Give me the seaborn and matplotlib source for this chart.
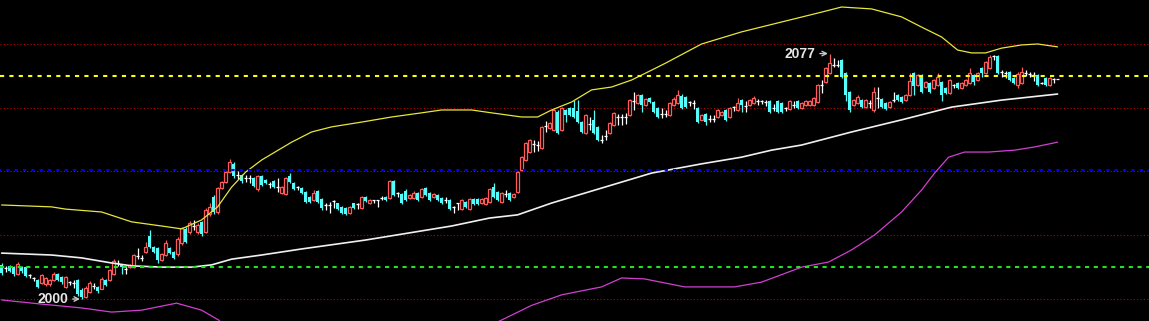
import numpy as np
import matplotlib
matplotlib.use("Agg")
import matplotlib.pyplot as plt
import seaborn as sns

# ---------------- data (prices) ----------------
opens = [
    2010.7, 2009.8, 2010.4, 2010.0, 2007.9, 2010.0, 2010.0, 2007.5, 2006.6, 2006.0,
    2005.0, 2004.7, 2004.7, 2006.0, 2007.9, 2006.9, 2003.8, 2005.3, 2005.0, 2006.0,
    2002.8, 2000.5, 2002.2, 2004.1, 2003.8, 2003.2, 2006.0, 2006.0, 2007.9, 2011.2,
    2010.7, 2009.5, 2010.0, 2010.0, 2013.5, 2013.0, 2014.7, 2019.8, 2016.3, 2016.0,
    2012.2, 2013.8, 2016.0, 2014.7, 2014.1, 2017.5, 2022.0, 2020.9, 2023.0, 2020.9,
    2024.2, 2021.0, 2026.6, 2032.0, 2027.2, 2034.8, 2036.7, 2039.8, 2042.5, 2039.0,
    2038.9, 2038.0, 2038.0, 2038.0, 2034.5, 2038.5, 2037.3, 2036.0, 2037.0, 2035.0,
    2033.3, 2032.9, 2038.5, 2036.4, 2035.2, 2034.8, 2033.6, 2032.0, 2031.1, 2033.9,
    2031.4, 2029.5, 2029.5, 2030.8, 2030.0, 2028.9, 2028.5, 2027.0, 2030.0, 2029.8,
    2028.5, 2032.0, 2030.0, 2031.0, 2031.0, 2031.7, 2032.0, 2031.7, 2037.0, 2033.3,
    2033.0, 2034.0, 2031.7, 2031.7, 2033.3, 2032.0, 2034.8, 2033.3, 2032.0, 2032.6,
    2031.7, 2031.0, 2031.1, 2028.9, 2030.0, 2028.2, 2030.5, 2028.2, 2031.4, 2031.4,
    2030.0, 2029.8, 2030.5, 2035.0, 2033.6, 2030.5, 2033.0, 2033.3, 2032.0, 2033.6,
    2040.5, 2043.6, 2046.1, 2048.6, 2048.3, 2047.4, 2054.3, 2053.7, 2053.0, 2058.7,
    2053.0, 2059.3, 2059.9, 2059.9, 2059.0, 2055.5, 2052.0, 2055.0, 2056.0, 2054.0,
    2050.0, 2051.0, 2052.0, 2054.6, 2057.0, 2057.0, 2057.0, 2057.7, 2062.0, 2061.5,
    2064.0, 2060.9, 2063.0, 2061.8, 2059.9, 2058.0, 2058.0, 2057.7, 2060.9, 2061.5,
    2063.8, 2063.3, 2061.8, 2061.5, 2059.9, 2056.2, 2058.0, 2056.5, 2056.5, 2057.0,
    2057.7, 2059.3, 2057.0, 2060.2, 2059.3, 2062.4, 2060.5, 2060.9, 2061.5, 2062.0,
    2062.0, 2061.8, 2062.0, 2060.0, 2062.1, 2061.5, 2059.9, 2059.6, 2061.0, 2062.1,
    2059.9, 2060.9, 2061.0, 2060.9, 2061.8, 2067.0, 2068.1, 2071.0, 2073.5, 2073.4,
    2075.0, 2070.9, 2064.9, 2060.9, 2061.5, 2062.4, 2060.2, 2061.5, 2059.3, 2063.0,
    2062.7, 2061.5, 2060.3, 2062.4, 2064.0, 2063.3, 2062.4, 2064.0, 2071.0, 2067.1,
    2070.3, 2066.5, 2067.7, 2066.2, 2067.1, 2068.0, 2066.2, 2064.6, 2067.1, 2067.7,
    2066.2, 2067.1, 2067.7, 2070.3, 2068.7, 2072.5, 2070.9, 2072.5, 2076.2, 2076.2,
    2071.2, 2070.9, 2071.2, 2069.3, 2067.0, 2067.7, 2070.9, 2070.5, 2070.3, 2070.3,
    2067.9, 2069.3, 2067.1, 2069.0, 2069.0,
]
highs = [
    2011.2, 2010.2, 2010.8, 2010.4, 2011.6, 2010.4, 2010.4, 2007.7, 2006.8, 2006.3,
    2007.9, 2007.0, 2006.4, 2008.5, 2008.2, 2007.2, 2007.2, 2005.6, 2006.0, 2006.3,
    2003.5, 2004.0, 2005.5, 2005.0, 2004.2, 2006.9, 2006.3, 2009.5, 2012.5, 2012.2,
    2011.0, 2010.2, 2011.0, 2014.2, 2015.9, 2013.8, 2018.0, 2021.6, 2016.6, 2016.3,
    2014.5, 2018.5, 2016.3, 2015.0, 2019.5, 2022.6, 2022.6, 2024.5, 2024.8, 2023.8,
    2024.5, 2028.5, 2030.0, 2032.5, 2035.2, 2037.0, 2040.2, 2044.0, 2043.0, 2040.0,
    2039.2, 2039.0, 2039.0, 2038.3, 2039.0, 2039.0, 2037.6, 2036.8, 2037.2, 2037.9,
    2035.3, 2038.3, 2039.5, 2036.7, 2035.4, 2035.0, 2034.0, 2032.3, 2034.2, 2034.2,
    2031.7, 2030.2, 2030.5, 2031.1, 2030.2, 2029.2, 2028.8, 2029.2, 2030.2, 2030.0,
    2032.3, 2032.3, 2031.3, 2031.2, 2031.2, 2032.3, 2032.3, 2037.3, 2037.3, 2033.6,
    2033.3, 2034.5, 2033.0, 2034.0, 2033.6, 2034.8, 2035.0, 2033.6, 2033.3, 2032.9,
    2032.0, 2032.0, 2031.4, 2029.1, 2030.2, 2031.4, 2030.8, 2031.7, 2031.7, 2031.7,
    2031.7, 2032.0, 2034.8, 2036.4, 2033.9, 2033.6, 2034.2, 2033.6, 2033.3, 2040.2,
    2045.0, 2049.3, 2050.3, 2049.9, 2049.6, 2054.3, 2055.8, 2055.5, 2059.6, 2059.3,
    2060.2, 2059.6, 2060.2, 2062.5, 2062.5, 2055.8, 2058.0, 2057.0, 2059.3, 2054.3,
    2051.5, 2053.0, 2055.5, 2058.6, 2058.0, 2058.0, 2058.3, 2062.7, 2064.9, 2064.3,
    2064.3, 2063.0, 2063.3, 2062.0, 2060.2, 2059.9, 2059.3, 2061.8, 2063.3, 2065.5,
    2064.3, 2063.6, 2062.0, 2062.4, 2060.2, 2058.0, 2058.3, 2057.7, 2057.7, 2059.6,
    2059.0, 2059.6, 2060.2, 2060.5, 2063.0, 2062.7, 2062.0, 2062.7, 2063.6, 2062.7,
    2062.4, 2062.4, 2062.4, 2061.2, 2062.4, 2061.8, 2060.2, 2062.4, 2062.1, 2062.4,
    2061.8, 2062.4, 2062.3, 2063.3, 2067.4, 2068.7, 2072.8, 2077.0, 2075.6, 2075.0,
    2075.3, 2071.2, 2065.2, 2062.7, 2064.0, 2062.7, 2062.7, 2062.4, 2066.5, 2066.5,
    2063.0, 2061.8, 2062.1, 2064.9, 2064.3, 2063.6, 2064.3, 2071.0, 2071.3, 2070.6,
    2070.6, 2068.4, 2068.0, 2069.0, 2071.0, 2068.3, 2066.5, 2069.0, 2067.4, 2068.0,
    2068.0, 2069.0, 2072.5, 2070.6, 2071.2, 2072.8, 2074.6, 2076.5, 2076.5, 2076.5,
    2071.8, 2071.5, 2071.5, 2069.6, 2071.2, 2072.8, 2071.8, 2071.2, 2071.2, 2070.6,
    2068.1, 2069.6, 2069.6, 2069.2, 2069.1,
]
lows = [
    2007.6, 2008.6, 2008.4, 2007.2, 2007.5, 2008.2, 2006.8, 2006.5, 2005.6, 2003.3,
    2004.6, 2004.2, 2004.2, 2005.7, 2005.7, 2004.8, 2003.5, 2004.4, 2003.6, 2001.0,
    2000.0, 2000.3, 2001.9, 2003.0, 2002.0, 2003.0, 2004.0, 2005.7, 2007.5, 2010.2,
    2007.9, 2007.9, 2009.8, 2009.8, 2012.6, 2011.9, 2014.4, 2016.0, 2014.4, 2011.2,
    2011.9, 2013.5, 2014.1, 2012.5, 2013.5, 2017.0, 2017.5, 2020.5, 2021.6, 2020.5,
    2019.8, 2020.6, 2026.0, 2026.8, 2026.8, 2034.4, 2036.4, 2039.5, 2038.0, 2037.5,
    2036.5, 2036.8, 2036.5, 2035.0, 2034.0, 2035.5, 2036.0, 2034.8, 2034.8, 2033.6,
    2033.0, 2032.6, 2036.4, 2034.2, 2034.2, 2033.0, 2030.2, 2030.2, 2030.8, 2030.2,
    2027.9, 2027.9, 2027.0, 2028.5, 2027.9, 2026.6, 2026.3, 2026.6, 2028.2, 2028.3,
    2028.2, 2030.5, 2029.7, 2030.2, 2028.8, 2031.0, 2030.8, 2031.4, 2032.3, 2032.0,
    2029.7, 2030.8, 2031.4, 2031.4, 2030.8, 2031.7, 2032.3, 2030.8, 2031.7, 2030.8,
    2029.7, 2030.0, 2027.9, 2027.0, 2027.9, 2027.9, 2028.7, 2027.9, 2029.5, 2029.5,
    2029.7, 2029.5, 2030.2, 2031.7, 2030.8, 2030.2, 2032.0, 2030.8, 2031.7, 2033.3,
    2040.2, 2043.3, 2045.8, 2046.1, 2046.4, 2047.1, 2052.4, 2053.4, 2052.7, 2051.7,
    2052.7, 2055.5, 2057.4, 2056.7, 2055.2, 2052.0, 2051.7, 2053.0, 2051.7, 2049.6,
    2048.9, 2049.9, 2051.7, 2054.3, 2054.6, 2054.6, 2055.0, 2057.4, 2059.3, 2061.2,
    2058.7, 2060.5, 2061.5, 2058.3, 2056.7, 2056.7, 2057.0, 2057.4, 2060.5, 2061.2,
    2059.6, 2059.9, 2060.5, 2059.6, 2055.2, 2056.0, 2054.6, 2055.5, 2055.5, 2056.7,
    2057.4, 2055.9, 2056.7, 2059.0, 2059.0, 2058.7, 2058.7, 2060.5, 2061.2, 2060.9,
    2061.2, 2060.5, 2058.3, 2059.0, 2058.3, 2058.3, 2059.0, 2059.3, 2059.9, 2059.6,
    2059.6, 2060.6, 2060.7, 2060.6, 2061.5, 2064.6, 2067.8, 2070.6, 2072.8, 2072.8,
    2069.3, 2062.0, 2058.7, 2060.6, 2061.2, 2059.9, 2059.9, 2059.9, 2058.7, 2059.9,
    2059.9, 2059.3, 2060.0, 2061.8, 2062.1, 2061.5, 2062.1, 2063.7, 2064.0, 2066.8,
    2064.6, 2066.2, 2064.6, 2065.9, 2066.8, 2062.0, 2064.3, 2064.3, 2066.2, 2065.9,
    2065.9, 2066.8, 2067.4, 2067.1, 2068.4, 2069.5, 2070.6, 2072.2, 2075.0, 2070.6,
    2069.6, 2069.3, 2068.4, 2067.4, 2066.2, 2067.4, 2070.0, 2069.6, 2068.4, 2066.8,
    2067.5, 2066.8, 2066.8, 2067.7, 2068.9,
]
closes = [
    2008.2, 2009.8, 2008.8, 2007.9, 2011.0, 2008.8, 2007.2, 2007.5, 2006.6, 2003.8,
    2007.5, 2006.6, 2006.0, 2007.9, 2006.0, 2005.3, 2006.9, 2005.3, 2005.0, 2001.6,
    2000.5, 2003.5, 2005.0, 2004.1, 2002.4, 2006.3, 2004.4, 2009.1, 2011.9, 2011.2,
    2010.0, 2009.5, 2010.7, 2013.8, 2013.5, 2013.0, 2016.3, 2016.3, 2014.7, 2012.2,
    2014.1, 2017.5, 2014.4, 2012.8, 2018.8, 2022.2, 2018.0, 2024.0, 2023.0, 2023.2,
    2020.5, 2027.9, 2029.0, 2027.2, 2034.8, 2036.7, 2039.8, 2043.0, 2038.5, 2039.0,
    2037.0, 2038.0, 2038.0, 2035.5, 2038.5, 2035.8, 2036.4, 2036.0, 2035.0, 2035.0,
    2035.0, 2037.9, 2036.7, 2034.5, 2035.2, 2033.3, 2030.5, 2030.5, 2033.3, 2030.5,
    2028.5, 2029.5, 2029.5, 2030.8, 2028.2, 2027.0, 2026.8, 2028.9, 2028.5, 2029.8,
    2032.0, 2030.8, 2031.0, 2031.0, 2031.0, 2031.7, 2031.1, 2037.0, 2032.6, 2033.3,
    2030.0, 2031.1, 2032.6, 2033.3, 2031.1, 2034.5, 2032.6, 2031.1, 2033.0, 2031.1,
    2030.0, 2031.0, 2028.2, 2028.9, 2030.0, 2031.1, 2029.0, 2031.4, 2029.8, 2029.8,
    2031.4, 2031.7, 2034.5, 2032.0, 2031.1, 2033.3, 2033.0, 2031.1, 2033.0, 2039.8,
    2044.5, 2048.9, 2049.9, 2048.6, 2048.3, 2054.0, 2054.3, 2055.2, 2059.3, 2052.0,
    2059.9, 2057.7, 2057.7, 2057.0, 2055.5, 2052.4, 2057.7, 2055.0, 2052.0, 2049.9,
    2050.0, 2051.0, 2055.2, 2058.3, 2057.0, 2057.0, 2057.0, 2062.4, 2062.0, 2064.0,
    2060.9, 2062.7, 2061.8, 2058.7, 2057.0, 2058.0, 2058.0, 2061.5, 2062.7, 2064.0,
    2060.0, 2060.2, 2061.8, 2061.5, 2055.5, 2057.7, 2055.5, 2056.5, 2056.5, 2059.3,
    2058.7, 2056.2, 2059.9, 2060.2, 2061.5, 2060.9, 2060.5, 2062.4, 2063.0, 2062.0,
    2062.0, 2061.8, 2058.7, 2060.0, 2058.7, 2058.7, 2059.9, 2062.1, 2061.0, 2059.9,
    2061.5, 2062.1, 2062.0, 2063.0, 2067.1, 2067.0, 2072.5, 2074.0, 2073.5, 2073.4,
    2069.6, 2064.0, 2059.3, 2062.4, 2063.3, 2060.2, 2062.4, 2061.5, 2064.9, 2063.0,
    2060.2, 2059.6, 2061.8, 2062.4, 2062.4, 2061.8, 2064.0, 2068.5, 2066.9, 2070.3,
    2065.0, 2068.0, 2065.0, 2068.7, 2069.6, 2064.0, 2064.6, 2068.7, 2067.1, 2066.2,
    2067.7, 2068.7, 2070.9, 2068.0, 2070.9, 2070.9, 2074.3, 2076.0, 2076.2, 2071.0,
    2071.2, 2070.9, 2068.7, 2067.7, 2070.5, 2071.2, 2070.9, 2070.5, 2070.3, 2067.1,
    2067.9, 2067.1, 2069.3, 2069.0, 2069.0,
]

# Bollinger-style bands (position in bars, price)
upper_pos = [0, 12.5, 16, 25, 32.5, 40, 45, 50, 54, 57.5, 61, 65, 72.5, 77.5, 82.5, 90,
             97.5, 105, 110, 117.5, 122.5, 130, 134, 137.5, 142.5, 147.5, 152.5, 157.5,
             162.5, 166, 175, 185, 195, 205, 210, 217.5, 225, 230, 235, 239, 242.5, 246,
             250, 255, 259, 264]
upper_val = [2029.5, 2028.9, 2028.2, 2027.3, 2024.2, 2022.9, 2022.0, 2024.8, 2028.9, 2035.1,
             2039.8, 2043.6, 2049.2, 2052.4, 2054.0, 2055.5, 2057.1, 2058.4, 2059.3, 2059.3,
             2058.4, 2057.1, 2057.1, 2059.3, 2061.8, 2065.6, 2066.5, 2068.7, 2071.8, 2074.0,
             2080.0, 2083.8, 2086.9, 2090.0, 2091.6, 2091.0, 2088.5, 2085.3, 2082.2, 2078.1,
             2077.2, 2077.2, 2078.7, 2079.7, 2080.0, 2079.1]
mid_pos = [0, 12.5, 20, 27.5, 32.5, 40, 47.5, 52.5, 57.5, 65, 75, 91, 112.5, 122, 129,
           137.5, 150, 162.5, 175, 185, 192.5, 200, 212.5, 225, 237.5, 250, 264]
mid_val = [2014.4, 2013.8, 2012.9, 2011.3, 2010.4, 2010.0, 2010.0, 2010.7, 2012.5, 2013.8,
           2015.7, 2018.5, 2022.9, 2025.4, 2026.4, 2030.1, 2034.8, 2039.5, 2042.4, 2044.5,
           2046.7, 2048.3, 2052.4, 2056.2, 2060.2, 2062.4, 2064.3]
lower_pos = [0, 10, 20, 27.5, 35, 43.75, 50, 54.25, 62.5, 75, 100, 112.5, 124.5, 132.5,
             140, 150, 155, 160.75, 170.75, 183.25, 190, 200, 206.75, 212.5, 218.25, 225,
             230, 233.25, 236.75, 240.75, 246.75, 253.25, 258.25, 264]
lower_val = [1999.7, 1998.4, 1997.2, 1995.9, 1996.5, 1998.7, 1996.5, 1993.4, 1983.0, 1981.5,
             1982.0, 1986.5, 1993.1, 1998.0, 2001.3, 2003.8, 2006.6, 2006.3, 2003.8, 2003.8,
             2005.3, 2010.0, 2011.6, 2015.4, 2020.1, 2027.3, 2034.2, 2039.5, 2044.5, 2046.1,
             2046.1, 2046.7, 2047.7, 2049.2]

grid_levels = [2000, 2020, 2040, 2060, 2080]
yellow_level = 2070
blue_level = 2040.4
green_level = 2010

# ---------------- drawing ----------------
sns.set_style("dark", {"axes.facecolor": "black", "figure.facecolor": "black"})

RED = "#ff5a5a"
CYAN = "#54fcfc"
WHITE = "#ffffff"

fig = plt.figure(figsize=(11.49, 3.21), dpi=100, facecolor="black")
ax = fig.add_axes([0, 0, 1, 1])
ax.set_facecolor("black")

o = np.array(opens); h = np.array(highs); l = np.array(lows); c = np.array(closes)
x = np.arange(len(o))
up = c > o
down = c < o
doji = c == o

# dotted dark red grid lines
for lv in grid_levels:
    ax.axhline(lv, color="#c00000", lw=0.8, ls=(0, (1, 2)), zorder=1)

# wicks
ax.vlines(x[up], l[up], h[up], color=RED, lw=0.9, zorder=2)
ax.vlines(x[down], l[down], h[down], color=CYAN, lw=0.9, zorder=2)
ax.vlines(x[doji], l[doji], h[doji], color=WHITE, lw=0.9, zorder=2)
ax.hlines(c[doji], x[doji] - 0.42, x[doji] + 0.42, color=WHITE, lw=0.9, zorder=3)

# bodies
ax.bar(x[up], c[up] - o[up], bottom=o[up], width=0.6, facecolor="black",
       edgecolor=RED, linewidth=0.9, zorder=3)
ax.bar(x[down], o[down] - c[down], bottom=c[down], width=0.78, color=CYAN,
       linewidth=0, zorder=3)

# bands
sns.lineplot(x=upper_pos, y=upper_val, ax=ax, color="#e6e63c", lw=0.9, zorder=4, legend=False)
sns.lineplot(x=mid_pos, y=mid_val, ax=ax, color="#f0f0f0", lw=1.2, zorder=4, legend=False)
sns.lineplot(x=lower_pos, y=lower_val, ax=ax, color="#d040d0", lw=0.9, zorder=4, legend=False)

# dashed reference lines
ax.axhline(yellow_level, color="#ffff00", lw=1.5, ls=(0, (2, 2.5)), zorder=5)
ax.axhline(blue_level, color="#0000ee", lw=1.5, ls=(1, (1.6, 2.4)), zorder=5)
ax.axhline(green_level, color="#22e022", lw=1.5, ls=(0, (2, 2.2)), zorder=5)

# extreme labels
imax = int(np.argmax(h)); imin = int(np.argmin(l))
lab_kw = dict(color="#e6e6e6", fontsize=10, fontweight="bold", family="Liberation Sans",
              ha="right", va="center", zorder=6,
              arrowprops=dict(arrowstyle="->", color="#c8c8c8", lw=1.0,
                              shrinkA=1, shrinkB=0, mutation_scale=8))
ax.annotate(f"{h[imax]:.0f}", xy=(imax - 0.4, h[imax]), xytext=(imax - 3.6, h[imax]), **lab_kw)
ax.annotate(f"{l[imin]:.0f}", xy=(imin - 0.4, l[imin]), xytext=(imin - 3.4, l[imin]), **lab_kw)

ax.set_xlim(-0.4, 286.85)
ax.set_ylim(1993.1, 2093.8)
ax.axis("off")

fig.savefig("out.png", dpi=100, facecolor="black")
